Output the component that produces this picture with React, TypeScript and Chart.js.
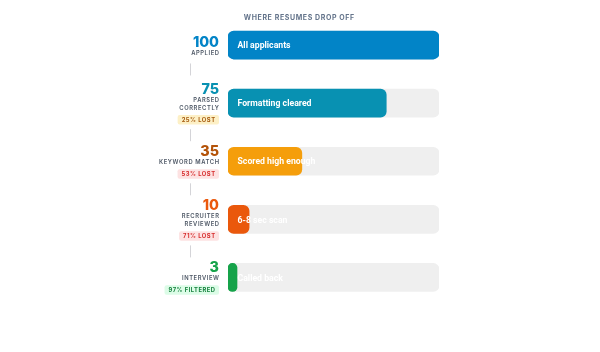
import React, { useEffect, useRef } from "react";
import { Chart, registerables } from "chart.js";

Chart.register(...registerables);

const chartTitle = "WHERE RESUMES DROP OFF";
const stages = ["Applied", "Parsed correctly", "Keyword match", "Recruiter reviewed", "Interview"];
const stageLines = [["APPLIED"], ["PARSED", "CORRECTLY"], ["KEYWORD MATCH"], ["RECRUITER", "REVIEWED"], ["INTERVIEW"]];
const counts = [100, 75, 35, 10, 3];
const barLabels = ["All applicants", "Formatting cleared", "Scored high enough", "6-8 sec scan", "Called back"];
const lossBadges = [null, "25% LOST", "53% LOST", "71% LOST", "97% FILTERED"];
const trackValues = [100, 100, 100, 100, 100];
const axisMax = 100;

const barColors = ["#0284c7", "#0891b2", "#f59e0b", "#ea580c", "#16a34a"];
const numberColors = ["#0284c7", "#0891b2", "#b45309", "#ea580c", "#16a34a"];
const badgeBg = [null, "#fdf0c6", "#fde2e2", "#fde2e2", "#dcfce7"];
const badgeFg = [null, "#a55a0e", "#d62c2c", "#d62c2c", "#15803d"];
const trackColor = "#efefef";

const FONT = "Inter, 'Noto Sans', sans-serif";
const BAR_FONT = "Roboto, 'Liberation Sans', sans-serif";

const funnelPlugin = {
  id: "funnelText",
  afterDatasetsDraw(chart: any) {
    const { ctx, scales } = chart;
    const x = scales.x;
    const y = scales.y;
    const left = x.left;
    ctx.save();

    // labels inside bars
    ctx.font = `700 8.7px ${BAR_FONT}`;
    ctx.fillStyle = "#ffffff";
    ctx.textBaseline = "middle";
    ctx.textAlign = "left";
    counts.forEach((_, i) => {
      ctx.fillText(barLabels[i], left + 9.5, y.getPixelForValue(i) + 1);
    });

    // left-side blocks
    const rightX = left - 9;
    const numH = 9.8, gap1 = 4.5, lineCap = 4, linePitch = 8, gap2 = 5, badgeH = 9.5;
    const blocks: { top: number; bottom: number }[] = [];
    counts.forEach((v, i) => {
      const lines = stageLines[i];
      const badge = lossBadges[i];
      const labelH = lineCap + (lines.length - 1) * linePitch;
      const total = numH + gap1 + labelH + (badge ? gap2 + badgeH : 0);
      const cy = y.getPixelForValue(i) + 1;
      const top = cy - total / 2;
      blocks.push({ top, bottom: top + total });

      ctx.textAlign = "right";
      ctx.textBaseline = "alphabetic";
      (ctx as any).letterSpacing = "0px";
      ctx.font = `800 14.3px ${FONT}`;
      ctx.fillStyle = numberColors[i];
      ctx.fillText(String(v), rightX, top + numH);

      ctx.font = `600 5.8px ${FONT}`;
      (ctx as any).letterSpacing = "0.6px";
      ctx.fillStyle = "#4b5563";
      lines.forEach((ln, k) => {
        ctx.fillText(ln, rightX + 0.6, top + numH + gap1 + lineCap + k * linePitch);
      });

      if (badge) {
        const bTop = top + numH + gap1 + labelH + gap2;
        ctx.font = `700 5.8px ${FONT}`;
        (ctx as any).letterSpacing = "0.5px";
        const tw = ctx.measureText(badge).width;
        const bw = tw + 7.5;
        ctx.fillStyle = badgeBg[i] as string;
        ctx.beginPath();
        (ctx as any).roundRect(rightX - bw, bTop, bw, badgeH, 2);
        ctx.fill();
        ctx.fillStyle = badgeFg[i] as string;
        ctx.textAlign = "center";
        ctx.textBaseline = "middle";
        ctx.fillText(badge, rightX - bw / 2 + 0.25, bTop + badgeH / 2 + 0.5);
      }
    });

    // connectors
    (ctx as any).letterSpacing = "0px";
    ctx.strokeStyle = "#d4d4d8";
    ctx.lineWidth = 1;
    const lx = left - 37.5;
    for (let i = 0; i < blocks.length - 1; i++) {
      const mid = (blocks[i].bottom + blocks[i + 1].top) / 2;
      ctx.beginPath();
      ctx.moveTo(lx, mid - 6);
      ctx.lineTo(lx, mid + 6);
      ctx.stroke();
    }

    // title
    ctx.font = `700 7px ${FONT}`;
    (ctx as any).letterSpacing = "0.6px";
    ctx.fillStyle = "#64748b";
    ctx.textAlign = "center";
    ctx.textBaseline = "middle";
    ctx.fillText(chartTitle, chart.width / 2 - 0.7, 10);

    ctx.restore();
  },
};

export default function App() {
  const ref = useRef<HTMLCanvasElement | null>(null);
  useEffect(() => {
    if (!ref.current) return;
    const chart = new Chart(ref.current, {
      type: "bar",
      data: {
        labels: stages,
        datasets: [
          {
            label: "Remaining",
            data: counts,
            backgroundColor: barColors,
            borderRadius: 6,
            borderSkipped: false,
            barThickness: 28,
            grouped: false,
            minBarLength: 9,
          },
          {
            label: "Track",
            data: trackValues,
            backgroundColor: trackColor,
            borderRadius: 6,
            borderSkipped: false,
            barThickness: 28,
            grouped: false,
          },
        ],
      },
      options: {
        indexAxis: "y",
        animation: false,
        responsive: false,
        layout: { padding: { left: 220, right: 153, top: 8, bottom: 37.5 } },
        scales: {
          x: { min: 0, max: axisMax, display: false },
          y: { display: false },
        },
        plugins: { legend: { display: false }, tooltip: { enabled: false }, title: { display: false } },
      },
      plugins: [funnelPlugin],
    });
    return () => chart.destroy();
  }, []);
  return (
    <div style={{ width: 584, height: 336 }}>
      <canvas ref={ref} width={584} height={336} style={{ display: "block" }} />
    </div>
  );
}
